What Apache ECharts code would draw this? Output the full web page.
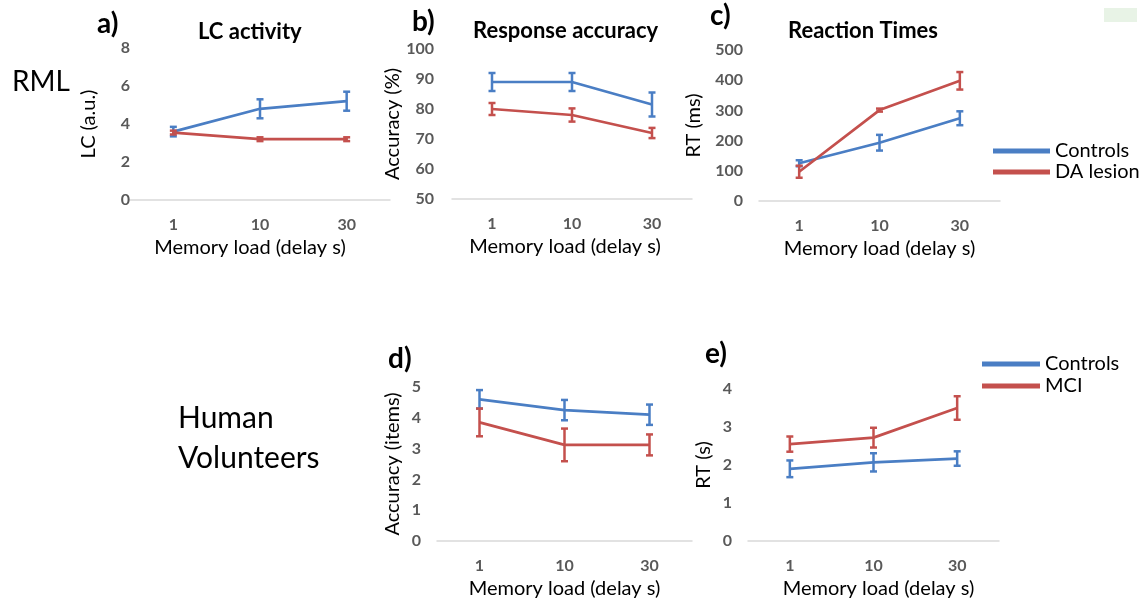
<!DOCTYPE html>
<html>
<head>
<meta charset="utf-8">
<script src="https://cdn.jsdelivr.net/npm/echarts@6/dist/echarts.min.js"></script>
<style>
html,body{margin:0;padding:0;background:#fff;}
#chart{width:1145px;height:601px;}
</style>
</head>
<body>
<div id="chart"></div>
<script>
// ---- data ----
const categories = ['1', '10', '30'];

// a) LC activity (a.u.)
const lcControls = [3.6, 4.8, 5.2];
const lcControlsErr = [0.25, 0.5, 0.5];
const lcDA = [3.55, 3.2, 3.2];
const lcDAErr = [0.1, 0.1, 0.1];

// b) Response accuracy (%)
const accControls = [89, 89, 81.5];
const accControlsErr = [3, 3, 4];
const accDA = [80, 78, 72];
const accDAErr = [2, 2.2, 1.7];

// c) Reaction times (ms)
const rtControls = [125, 193, 274];
const rtControlsErr = [10, 26, 23];
const rtDA = [97, 301, 398];
const rtDAErr = [20, 5, 29];

// d) Human accuracy (items)
const humAccControls = [4.6, 4.25, 4.1];
const humAccControlsErr = [0.3, 0.33, 0.33];
const humAccMCI = [3.85, 3.12, 3.12];
const humAccMCIErr = [0.45, 0.53, 0.34];

// e) Human RT (s)
const humRtControls = [1.9, 2.07, 2.17];
const humRtControlsErr = [0.22, 0.24, 0.19];
const humRtMCI = [2.55, 2.72, 3.5];
const humRtMCIErr = [0.2, 0.26, 0.31];

// ---- style ----
const BLUE = '#4A7EC4';
const RED = '#C4504D';
const FONT = 'Lato';
const TICK = '#595959';

const panels = [
  {grid:{left:130, top:48, width:260, height:152}, min:0, max:8, interval:2, yName:'LC (a.u.)', yGap:31, yMargin:0, xShift:-10,
   s:[['Controls', lcControls, lcControlsErr, BLUE], ['DA lesion', lcDA, lcDAErr, RED]]},
  {grid:{left:452, top:49, width:240, height:150}, min:50, max:100, interval:10, yName:'Accuracy (%)', yGap:41, yMargin:18, xShift:-7,
   s:[['Controls', accControls, accControlsErr, BLUE], ['DA lesion', accDA, accDAErr, RED]]},
  {grid:{left:759, top:50, width:241, height:151}, min:0, max:500, interval:100, yName:'RT (ms)', yGap:55, yMargin:16, xShift:0,
   s:[['Controls', rtControls, rtControlsErr, BLUE], ['DA lesion', rtDA, rtDAErr, RED]]},
  {grid:{left:437, top:387, width:255, height:154}, min:0, max:5, interval:1, yName:'Accuracy (items)', yGap:34, yMargin:16, xShift:0,
   s:[['Controls', humAccControls, humAccControlsErr, BLUE], ['MCI', humAccMCI, humAccMCIErr, RED]]},
  {grid:{left:748, top:389, width:251, height:152}, min:0, max:4, interval:1, yName:'RT (s)', yGap:34, yMargin:16, xShift:5,
   s:[['Controls', humRtControls, humRtControlsErr, BLUE], ['MCI', humRtMCI, humRtMCIErr, RED]]}
];

const grids = [], xAxes = [], yAxes = [], lineSeries = [], errSeries = [];

function makeErrRender(color) {
  return function (params, api) {
    const lo = api.coord([api.value(0), api.value(1)]);
    const hi = api.coord([api.value(0), api.value(2)]);
    const w = 3.5;
    const st = {stroke: color, lineWidth: 2.5};
    return {
      type: 'group',
      children: [
        {type: 'line', shape: {x1: lo[0], y1: lo[1], x2: hi[0], y2: hi[1]}, style: st},
        {type: 'line', shape: {x1: hi[0] - w, y1: hi[1], x2: hi[0] + w, y2: hi[1]}, style: st},
        {type: 'line', shape: {x1: lo[0] - w, y1: lo[1], x2: lo[0] + w, y2: lo[1]}, style: st}
      ]
    };
  };
}

panels.forEach((p, i) => {
  grids.push(p.grid);
  const sh = p.xShift;
  xAxes.push({
    type: 'category', gridIndex: i, data: categories, boundaryGap: true,
    axisLine: {lineStyle: {color: '#d9d9d9', width: 1.5}},
    axisTick: {show: false},
    axisLabel: {color: TICK, fontWeight: 'bold', fontSize: 16, fontFamily: FONT, margin: 17},
    name: 'Memory load (delay s)', nameLocation: 'middle', nameGap: 38,
    nameTextStyle: {color: '#000', fontSize: 20, fontFamily: FONT,
      padding: [0, sh < 0 ? -2 * sh : 0, 0, sh > 0 ? 2 * sh : 0]}
  });
  yAxes.push({
    type: 'value', gridIndex: i, min: p.min, max: p.max, interval: p.interval,
    axisLine: {show: false}, axisTick: {show: false}, splitLine: {show: false},
    axisLabel: {color: TICK, fontWeight: 'bold', fontSize: 16, fontFamily: FONT, margin: p.yMargin},
    name: p.yName, nameLocation: 'middle', nameRotate: 90, nameGap: p.yGap,
    nameTextStyle: {color: '#000', fontSize: 20, fontFamily: FONT}
  });
  p.s.forEach(([name, vals, errs, color]) => {
    lineSeries.push({
      type: 'line', name: name, xAxisIndex: i, yAxisIndex: i, data: vals,
      symbol: 'none', lineStyle: {color: color, width: 2.7}, itemStyle: {color: color},
      z: 3, animation: false
    });
    errSeries.push({
      type: 'custom', name: name, xAxisIndex: i, yAxisIndex: i,
      data: vals.map((v, k) => [k, v - errs[k], v + errs[k]]),
      renderItem: makeErrRender(color), itemStyle: {color: color},
      z: 4, animation: false
    });
  });
});

function txt(text, x, y, size, weight) {
  return {type: 'text', x: x, y: y, style: {text: text, fill: '#000', fontSize: size, fontWeight: weight || 'normal', fontFamily: FONT, align: 'left', verticalAlign: 'middle'}};
}

const option = {
  backgroundColor: '#fff',
  animation: false,
  grid: grids,
  xAxis: xAxes,
  yAxis: yAxes,
  legend: [
    {data: ['Controls', 'DA lesion'], orient: 'vertical', left: 993, top: 141, padding: 0, itemWidth: 57, itemHeight: 5, icon: 'rect', itemGap: 1,
     textStyle: {fontSize: 20, fontFamily: FONT, color: '#000'}, selectedMode: false},
    {data: ['Controls', 'MCI'], orient: 'vertical', left: 982, top: 354, padding: 0, itemWidth: 58, itemHeight: 5, icon: 'rect', itemGap: 2,
     textStyle: {fontSize: 20, fontFamily: FONT, color: '#000'}, selectedMode: false}
  ],
  series: lineSeries.concat(errSeries),
  graphic: [
    txt('a)', 97, 24, 28, 'bold'),
    txt('LC activity', 198, 32, 22, 'bold'),
    txt('b)', 412, 22, 28, 'bold'),
    txt('Response accuracy', 473, 31, 22, 'bold'),
    txt('c)', 710, 16, 28, 'bold'),
    txt('Reaction Times', 788, 31, 22, 'bold'),
    txt('d)', 388, 359, 28, 'bold'),
    txt('e)', 705, 354, 28, 'bold'),
    txt('RML', 12, 82, 28),
    txt('Human', 178, 418, 30),
    txt('Volunteers', 178, 458, 30),
    {type: 'rect', shape: {x: 1104, y: 8, width: 33, height: 14}, style: {fill: '#e8f3e6'}}
  ]
};

const chart = echarts.init(document.getElementById('chart'), null, {renderer: 'canvas'});
chart.setOption(option);
</script>
</body>
</html>
